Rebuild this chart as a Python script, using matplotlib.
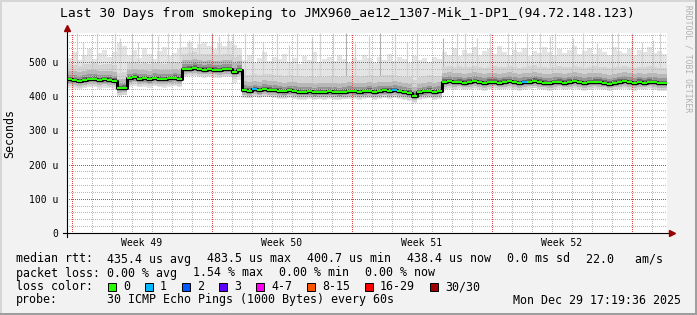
import numpy as np
import matplotlib.pyplot as plt
from matplotlib.patches import Rectangle

plt.rcParams['font.family'] = ['DejaVu Sans Mono']

W, H = 697, 315

# median rtt (microseconds), one value every 6 hours over the 30 days
median = [449, 447, 444, 448, 450, 451, 447, 449, 448, 446,
          424, 425,
          452, 455, 450, 452, 449, 453, 451, 450, 452, 454, 451,
          479, 481, 483, 480, 478, 480, 478, 476, 479, 480, 470, 476,
          418, 416, 420, 417, 421, 419, 418, 416, 414, 417,
          415, 413, 412, 414, 411, 413, 412, 414, 413, 411,
          413, 415, 414, 412, 414, 416, 413, 415, 417, 416,
          418, 415, 412, 410, 402, 411, 414, 416, 413, 415,
          442, 444, 441, 443, 440, 442, 444, 441, 439, 442,
          443, 440, 442, 444, 441, 439, 441, 443, 445, 442,
          440, 438, 441, 443, 440, 442, 444, 441, 439, 441,
          443, 442, 440, 437, 440, 442, 444, 441, 439, 442,
          440, 443, 441, 439, 438]

# upper / lower edge of the light smoke
smoke_top = [512, 528, 505, 522, 538, 510, 526, 534, 515, 530,
             555, 548,
             520, 535, 512, 540, 525, 508, 532, 545, 518, 527, 538,
             545, 558, 540, 552, 560, 548, 538, 555, 546, 562, 550, 540,
             505, 520, 498, 512, 530, 502, 515, 508, 525, 500,
             512, 495, 518, 506, 528, 499, 510, 515, 503, 522,
             508, 497, 513, 505, 520, 511, 498, 516, 507, 524,
             502, 514, 509, 496, 518, 505, 512, 500, 515, 508,
             530, 522, 540, 518, 535, 527, 545, 520, 532, 538,
             525, 548, 530, 522, 536, 528, 542, 519, 533, 526,
             545, 530, 521, 538, 527, 534, 546, 523, 531, 540,
             525, 537, 529, 520, 543, 532, 526, 539, 522, 535,
             530, 544, 527, 533, 525]
smoke_bottom = [425, 422, 420, 424, 427, 426, 422, 425, 423, 421,
                402, 404,
                428, 430, 426, 428, 424, 429, 427, 425, 428, 430, 426,
                456, 458, 460, 455, 454, 457, 453, 452, 455, 456, 440, 448,
                396, 394, 398, 395, 399, 397, 395, 393, 391, 395,
                392, 390, 389, 392, 388, 391, 389, 392, 390, 388,
                391, 393, 391, 389, 392, 394, 390, 393, 395, 393,
                396, 392, 389, 386, 380, 388, 391, 394, 390, 393,
                420, 422, 418, 421, 417, 420, 422, 418, 416, 420,
                421, 417, 420, 422, 418, 416, 419, 421, 423, 420,
                417, 415, 419, 421, 417, 420, 422, 418, 416, 419,
                421, 420, 417, 414, 418, 420, 422, 418, 416, 420,
                417, 421, 419, 416, 415]

# how far the darker smoke shades reach above / below the median
smoke_above = [45, 26, 14, 7, 3]
smoke_below = [20, 14, 9, 5, 2]
smoke_shades = ['#d4d4d4', '#b8b8b8', '#969696', '#6a6a6a', '#3a3a3a']

# single high pings
spike_day = [0.48, 0.82, 1.48, 2.40, 2.65, 3.23, 3.57, 4.23, 4.57, 5.07, 5.65,
             6.10, 6.60, 7.60, 8.07, 8.32, 8.90, 9.32, 9.82, 10.48, 11.10,
             11.48, 12.23, 12.65, 13.32, 14.40, 15.10, 16.40, 17.00, 17.50,
             19.50, 19.90, 20.50, 21.15, 22.07, 22.40, 22.98, 23.65, 24.15,
             24.40, 25.32, 25.82, 26.50, 27.23, 27.57, 28.23, 28.73, 29.30,
             29.65]
spike_top = [585, 560, 585, 585, 570, 585, 560, 585, 575, 585, 585,
             565, 585, 575, 585, 585, 585, 585, 560, 585, 550,
             585, 570, 585, 585, 555, 575, 585, 560, 585,
             585, 585, 570, 585, 585, 560, 585, 585, 575,
             585, 570, 585, 555, 585, 585, 585, 560, 565,
             585]
dark_spike_day = [7.23, 13.95, 15.65, 18.80]
dark_spike_top = [585, 585, 585, 570]

# samples with lost pings
loss_day = [9.25, 16.25, 22.75]
loss_count = [1, 1, 1]

week_labels = ['Week 49', 'Week 50', 'Week 51', 'Week 52']
first_week = 0.23
yticks = [0, 100, 200, 300, 400, 500]

loss_labels = ['0', '1', '2', '3', '4-7', '8-15', '16-29', '30/30']
loss_colors = ['#26ff00', '#00b8ff', '#0059ff', '#5e00ff', '#ff00f0',
               '#ff5500', '#ff0000', '#a10000']

rtt_items = ['435.4 us avg', '483.5 us max', '400.7 us min',
             '438.4 us now', '0.0 ms sd', '22.0   am/s']
loss_items = ['0.00 % avg', '1.54 % max', '0.00 % min', '0.00 % now']


def ext(a):
    a = np.asarray(a, float)
    return np.append(a, a[-1])


fig = plt.figure(figsize=(W / 100, H / 100), dpi=100, facecolor='#f2f2f2')
ax = fig.add_axes([67 / W, 82 / H, 600 / W, 200 / H])
ax.set_facecolor('white')

med = np.array(median, float)
days = np.arange(len(med)) * 0.25
edges = np.append(days, 30)

# smoke
ax.fill_between(edges, ext(smoke_bottom), ext(smoke_top), step='post',
                color='#e4e4e4', lw=0, zorder=1)
idx = (np.array(spike_day) / 0.25).astype(int)
ax.vlines(spike_day, med[idx], spike_top, color='#d4d4d4', lw=0.9, zorder=1.1)
idx = (np.array(dark_spike_day) / 0.25).astype(int)
ax.vlines(dark_spike_day, med[idx], dark_spike_top, color='#b0b0b0', lw=0.8,
          zorder=1.1)
for up, down, shade in zip(smoke_above, smoke_below, smoke_shades):
    hi = np.minimum(med + up, smoke_top)
    lo = np.maximum(med - down, smoke_bottom)
    ax.fill_between(edges, ext(lo), ext(hi), step='post', color=shade, lw=0,
                    zorder=1.2)

# dotted grid, drawn crisp
for k, d in enumerate(np.arange(first_week, 30, 1)):
    c = '#dd4444' if k % 7 == 0 else '#b8b8b8'
    ax.axvline(d, color=c, lw=0.72, ls=(0, (1, 2)), antialiased=False,
               zorder=1.5)
for v in range(20, 585, 20):
    c = '#dd4444' if v % 100 == 0 else '#b8b8b8'
    ax.axhline(v, color=c, lw=0.72, ls=(0, (1, 2)), antialiased=False,
               zorder=1.5)

# median line, coloured by loss
ax.step(edges, ext(med), where='post', color='black', lw=2.2, zorder=3)
seg_colors = [loss_colors[0]] * len(med)
for d, n in zip(loss_day, loss_count):
    seg_colors[int(d / 0.25)] = loss_colors[n]
ax.hlines(med, days, days + 0.25, colors=seg_colors, lw=1.5, zorder=4)

ax.set_xlim(0, 30)
ax.set_ylim(0, 585)
for s in ax.spines.values():
    s.set_visible(False)
ax.set_xticks([first_week + 3.5 + 7 * k for k in range(4)], week_labels)
ax.set_yticks(yticks, ['0' if v == 0 else f'{v} u' for v in yticks])
ax.tick_params(axis='x', length=0, pad=3.5, labelsize=7)
ax.tick_params(axis='y', length=0, pad=6, labelsize=7)

# axis lines with arrows
ax.plot([-4 / 600, 1 + 4 / 600], [0, 0], transform=ax.transAxes,
        color='black', lw=0.8, clip_on=False, zorder=5)
ax.plot([0, 0], [-4 / 200, 1 + 3 / 200], transform=ax.transAxes,
        color='black', lw=0.8, clip_on=False, zorder=5)
ax.plot(1 + 5 / 600, 0, marker='>', ms=4, color='#990000',
        transform=ax.transAxes, clip_on=False, zorder=6)
ax.plot(0, 1 + 5 / 200, marker='^', ms=4, color='#990000',
        transform=ax.transAxes, clip_on=False, zorder=6)


def ftext(x, y, s, **kw):
    kw.setdefault('fontsize', 8.4)
    kw.setdefault('va', 'center')
    fig.text(x / W, 1 - y / H, s, **kw)


ftext(347, 14, 'Last 30 Days from smokeping to '
      'JMX960_ae12_1307-Mik_1-DP1_(94.72.148.123)', ha='center', fontsize=9.4)
ftext(10, 133, 'Seconds', ha='center', rotation=90)
ftext(688, 5, 'RRDTOOL / TOBI OETIKER', ha='center', va='top', rotation=270,
      fontsize=5.8, color='#b0b0b0')

# legend
ftext(16, 259, 'median rtt:')
x = 107
for s in rtt_items:
    ftext(x, 259, s)
    x += 7 * len(s) + 16
ftext(16, 273, 'packet loss:')
x = 107
for s in loss_items:
    ftext(x, 273, s)
    x += 7 * len(s) + 16
ftext(16, 287, 'loss color:')
x = 108
for lab, col in zip(loss_labels, loss_colors):
    fig.patches.append(Rectangle((x / W, 1 - 291 / H), 8 / W, 8 / H,
                                 transform=fig.transFigure, facecolor=col,
                                 edgecolor='black', lw=0.7))
    ftext(x + 15, 287, lab)
    x += 14 + 7 * len(lab) + 16
ftext(16, 300, 'probe:')
ftext(107, 300, '30 ICMP Echo Pings (1000 Bytes) every 60s')
ftext(681, 300, 'Mon Dec 29 17:19:36 2025', ha='right')

# shaded border
for rx, ry, rw, rh, c in [(0, 0, 2, H, '#d6d6d6'), (0, H - 2, W, 2, '#d6d6d6'),
                          (W - 2, 0, 2, H, '#9e9e9e'), (0, 0, W, 2, '#9e9e9e')]:
    fig.patches.append(Rectangle((rx / W, ry / H), rw / W, rh / H,
                                 transform=fig.transFigure, color=c, lw=0))

fig.savefig('out.png', dpi=100)
